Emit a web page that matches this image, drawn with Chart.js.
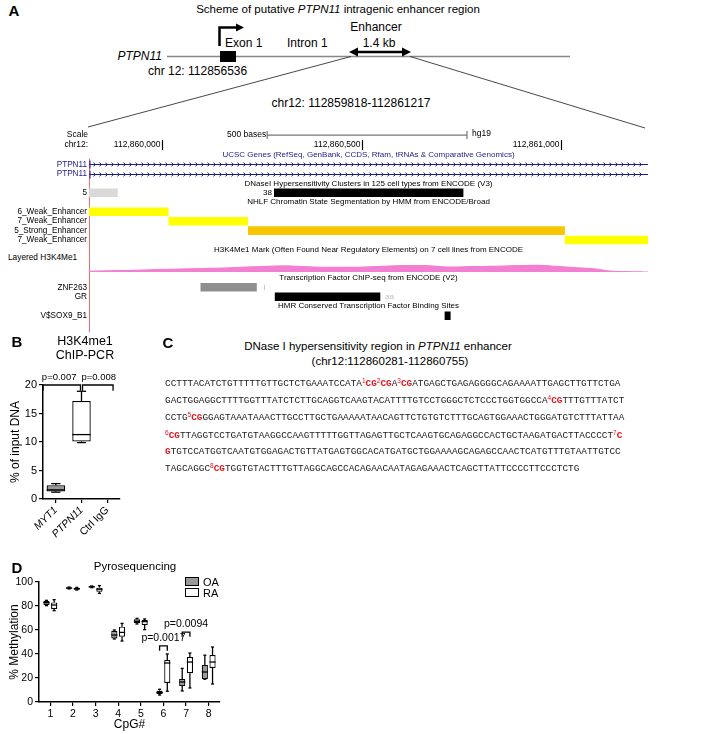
<!DOCTYPE html>
<html>
<head>
<meta charset="utf-8">
<script src="https://cdn.jsdelivr.net/npm/chart.js@4.4.0/dist/chart.umd.min.js"></script>
<style>
  body { margin: 0; background: #fff; }
  #fig { position: relative; width: 701px; height: 734px; overflow: hidden; font-family: "Liberation Sans", Arial, sans-serif; color: #000; }
  .t { position: absolute; white-space: nowrap; line-height: 1; }
  .c { transform: translate(-50%, -50%); }
  .l { transform: translate(0, -50%); }
  .r { transform: translate(-100%, -50%); }
  .lbl { font-weight: bold; font-size: 15px; }
  .seq { position: absolute; left: 165px; white-space: nowrap; line-height: 1; font-family: "Liberation Mono", monospace; font-size: 9.4px; color: #222; transform: translate(0, -50%); }
  .seq b { color: #e8141c; }
  .seq sup { color: #e8141c; font-size: 6.5px; vertical-align: 3px; font-family: "Liberation Sans", Arial, sans-serif; }
  .key { position: absolute; width: 12px; height: 7px; border: 1.3px solid #000; }
  canvas { position: absolute; }
</style>
</head>
<body>
<div id="fig">
  <!-- schema bovenaan -->
  <svg width="701" height="140" style="position:absolute;left:0;top:0">
    <line x1="167" y1="56.5" x2="570" y2="56.5" stroke="#888" stroke-width="1.3"/>
    <rect x="220" y="51" width="16" height="11" fill="#000"/>
    <path d="M219.5 46 V27.5 H237" fill="none" stroke="#000" stroke-width="2.5"/>
    <polygon points="236,23.5 244,27.5 236,31.5" fill="#000"/>
    <line x1="356" y1="52" x2="404" y2="52" stroke="#000" stroke-width="2.5"/>
    <polygon points="349,52 358,47.5 358,56.5" fill="#000"/>
    <polygon points="411,52 402,47.5 402,56.5" fill="#000"/>
    <line x1="351" y1="56.5" x2="88" y2="127" stroke="#333" stroke-width="0.9"/>
    <line x1="410" y1="56.5" x2="645" y2="128" stroke="#333" stroke-width="0.9"/>
  </svg>

  <div class="t c lbl" style="left:14px;top:10px">A</div>
  <div class="t c" style="left:338px;top:10px;font-size:11.5px">Scheme of putative <i>PTPN11</i> intragenic enhancer region</div>
  <div class="t l" style="left:225px;top:43px;font-size:12px">Exon 1</div>
  <div class="t l" style="left:287px;top:43px;font-size:12px">Intron 1</div>
  <div class="t c" style="left:376px;top:27px;font-size:12px">Enhancer</div>
  <div class="t c" style="left:379px;top:43px;font-size:12px">1.4 kb</div>
  <div class="t r" style="left:162px;top:56px;font-size:12px"><i>PTPN11</i></div>
  <div class="t l" style="left:148px;top:71px;font-size:12px">chr 12: 112856536</div>
  <div class="t c" style="left:351px;top:103px;font-size:12px">chr12: 112859818-112861217</div>
  <div class="t l" style="left:8px;top:257px;font-size:8.3px">Layered H3K4Me1</div>

  <canvas id="tracks" width="701" height="220" style="left:0;top:120px"></canvas>
  <canvas id="signal" width="559" height="20" style="left:89px;top:254px"></canvas>

  <div class="t c lbl" style="left:17px;top:341px">B</div>
  <div class="t c" style="left:85px;top:341px;font-size:12.5px">H3K4me1</div>
  <div class="t c" style="left:85px;top:355px;font-size:12.5px">ChIP-PCR</div>
  <canvas id="chip" width="140" height="175" style="left:0;top:365px"></canvas>

  <div class="t c lbl" style="left:168px;top:342px">C</div>
  <div class="t c" style="left:378px;top:347px;font-size:11.5px">DNase I hypersensitivity region in <i>PTPN11</i> enhancer</div>
  <div class="t c" style="left:390px;top:362px;font-size:11.5px">(chr12:112860281-112860755)</div>
  <div class="seq" style="top:383px">CCTTTACATCTGTTTTTGTTGCTCTGAAATCCATA<sup>1</sup><b>CG</b><sup>2</sup><b>CG</b>A<sup>3</sup><b>CG</b>ATGAGCTGAGAGGGGCAGAAAATTGAGCTTGTTCTGA</div>
  <div class="seq" style="top:400px">GACTGGAGGCTTTTGGTTTATCTCTTGCAGGTCAAGTACATTTTGTCCTGGGCTCTCCCTGGTGGCCA<sup>4</sup><b>CG</b>TTTGTTTATCT</div>
  <div class="seq" style="top:417px">CCTG<sup>5</sup><b>CG</b>GGAGTAAATAAACTTGCCTTGCTGAAAAATAACAGTTCTGTGTCTTTGCAGTGGAAACTGGGATGTCTTTATTAA</div>
  <div class="seq" style="top:435px"><sup>6</sup><b>CG</b>TTAGGTCCTGATGTAAGGCCAAGTTTTTGGTTAGAGTTGCTCAAGTGCAGAGGCCACTGCTAAGATGACTTACCCCT<sup>7</sup><b>C</b></div>
  <div class="seq" style="top:452px"><b>G</b>TGTCCATGGTCAATGTGGAGACTGTTATGAGTGGCACATGATGCTGGAAAAGCAGAGCCAACTCATGTTTGTAATTGTCC</div>
  <div class="seq" style="top:468px">TAGCAGGC<sup>8</sup><b>CG</b>TGGTGTACTTTGTTAGGCAGCCACAGAACAATAGAGAAACTCAGCTTATTCCCCTTCCCTCTG</div>

  <div class="t c lbl" style="left:17px;top:567px">D</div>
  <div class="t c" style="left:135px;top:567px;font-size:11.5px">Pyrosequencing</div>
  <div class="key" style="left:185px;top:577px;background:#999"></div>
  <div class="t l" style="left:203px;top:582px;font-size:11px">OA</div>
  <div class="key" style="left:185px;top:588px;background:#fff"></div>
  <div class="t l" style="left:203px;top:593px;font-size:11px">RA</div>
  <canvas id="pyro" width="240" height="174" style="left:0;top:560px"></canvas>
</div>

<script>
// ---------- A: genoomvenster ----------
const regionStart = 112859818;
const regionEnd = 112861217;
const rulerTicks = [112860000, 112860500, 112861000];
const scaleBar = [112860264, 112860764];

const rowLabels = ['', 'PTPN11', 'PTPN11', '', '5', '', '6_Weak_Enhancer', '7_Weak_Enhancer', '5_Strong_Enhancer', '7_Weak_Enhancer',
  '', '', '', '', 'ZNF263', 'GR', '', 'V$SOX9_B1'];
const trackStart = [null, null, null, null, 112859818, null, 112859818, 112860017, 112860216, 112861009,
  null, null, null, null, 112860097, 112860283, null, 112860708];
const trackEnd = [null, null, null, null, 112859890, null, 112860017, 112860216, 112861009, 112861217,
  null, null, null, null, 112860238, 112860547, null, 112860723];
const trackColors = ['#fff', '#fff', '#fff', '#fff', '#d9d9d9', '#fff', '#ffff00', '#ffff00', '#f7c600', '#ffff00',
  '#fff', '#fff', '#fff', '#fff', '#8f8f8f', '#000', '#fff', '#000'];
const dnaseRow = 4;
const dnaseCluster = [112860281, 112860755];

const geneRows = [1, 2];
const titleRows = [0, 3, 5, 10, 13, 16];
const titleTexts = [
  'UCSC Genes (RefSeq, GenBank, CCDS, Rfam, tRNAs & Comparative Genomics)',
  'DNaseI Hypersensitivity Clusters in 125 cell types from ENCODE (V3)',
  'NHLF Chromatin State Segmentation by HMM from ENCODE/Broad',
  'H3K4Me1 Mark (Often Found Near Regulatory Elements) on 7 cell lines from ENCODE',
  'Transcription Factor ChIP-seq from ENCODE (V2)',
  'HMR Conserved Transcription Factor Binding Sites'
];
const noteRows = [4, 14, 15];
const noteTexts = ['38', 'I', 'aa'];
const notePos = [112860281, 112860250, 112860554];
const noteColors = ['#000', '#bbb', '#bbb'];

// H3K4Me1 signaal
const sigPos = [112859818, 112859820, 112859932, 112860044, 112860156, 112860268, 112860325, 112860380, 112860492, 112860604,
  112860661, 112860716, 112860773, 112860828, 112860885, 112860942, 112860975, 112861032, 112861087, 112861121,
  112861166, 112861208, 112861217];
const sigVal = [0, 0.7, 1.7, 3, 4, 5.7, 6, 5, 4.7, 6.3, 6.3, 5, 5.3, 5.7, 6.3, 6.7, 6, 4.3, 3, 1, 0.3, 0, 0];

// ---------- B: ChIP-PCR ----------
const chipCats = ['MYT1', 'PTPN11', 'Ctrl IgG'];
const chipMin = [1.2, 9.9, null];
const chipQ1 = [1.3, 10.1, null];
const chipMed = [1.6, 11.3, null];
const chipQ3 = [2.4, 17.2, null];
const chipMax = [2.7, 18.9, null];
const chipP = ['p=0.007', 'p=0.008'];
const chipPFrom = [-0.5, 1.04];
const chipPTo = [0.96, 2.23];
const chipPText = [0.13, 1.67];

// ---------- D: pyrosequencing ----------
const cpgCats = ['1', '2', '3', '4', '5', '6', '7', '8'];
const oaMin = [80.3, 94.2, 95.3, 52.5, 65.0, 5.8, 9.2, 19.0];
const oaQ1 = [80.8, 94.4, 95.5, 53.0, 65.6, 6.6, 13.3, 19.2];
const oaMed = [82.8, 95.0, 96.0, 55.8, 67.2, 7.8, 16.7, 25.0];
const oaQ3 = [84.2, 95.5, 96.4, 59.4, 68.9, 9.4, 19.2, 30.8];
const oaMax = [84.7, 95.8, 96.7, 60.0, 69.7, 10.6, 28.0, 39.0];
const raMin = [76.1, 93.3, 90.5, 50.8, 60.3, 9.0, 11.7, 15.0];
const raQ1 = [77.5, 93.6, 91.9, 54.4, 64.2, 15.8, 24.0, 28.3];
const raMed = [80.8, 94.4, 94.0, 58.0, 67.0, 32.5, 33.3, 33.3];
const raQ3 = [83.0, 95.0, 95.3, 62.8, 68.3, 35.0, 37.5, 39.2];
const raMax = [85.3, 95.5, 97.0, 65.5, 69.2, 40.0, 40.8, 45.8];
const pyroPCat = [5, 6];
const pyroP = ['p=0.0017', 'p=0.0094'];
const pyroPY = [46.7, 58.3];

const navy = '#1c1c8c';
const sans = '"Liberation Sans", Arial, sans-serif';

// box-whisker lijnen bovenop de zwevende bars
const boxPlugin = {
  id: 'boxes',
  afterDatasetsDraw(chart) {
    const ctx = chart.ctx;
    const ys = chart.scales.y;
    ctx.save();
    ctx.strokeStyle = '#000';
    ctx.lineWidth = 1.3;
    chart.data.datasets.forEach((ds, di) => {
      chart.getDatasetMeta(di).data.forEach((bar, i) => {
        if (ds.med[i] == null) return;
        const half = bar.width / 2;
        const cap = half * 0.5;
        const line = (x0, y0, x1, y1) => { ctx.beginPath(); ctx.moveTo(x0, y0); ctx.lineTo(x1, y1); ctx.stroke(); };
        line(bar.x - half, ys.getPixelForValue(ds.med[i]), bar.x + half, ys.getPixelForValue(ds.med[i]));
        line(bar.x, ys.getPixelForValue(ds.q3[i]), bar.x, ys.getPixelForValue(ds.max[i]));
        line(bar.x - cap, ys.getPixelForValue(ds.max[i]), bar.x + cap, ys.getPixelForValue(ds.max[i]));
        line(bar.x, ys.getPixelForValue(ds.q1[i]), bar.x, ys.getPixelForValue(ds.min[i]));
        line(bar.x - cap, ys.getPixelForValue(ds.min[i]), bar.x + cap, ys.getPixelForValue(ds.min[i]));
      });
    });
    ctx.restore();
  }
};

function bracket(ctx, x0, x1, yTop, yEnd) {
  ctx.beginPath();
  ctx.moveTo(x0, yEnd);
  ctx.lineTo(x0, yTop);
  ctx.lineTo(x1, yTop);
  ctx.lineTo(x1, yEnd);
  ctx.stroke();
}

function axisStyle(extra) {
  return Object.assign({
    grid: { drawOnChartArea: false, drawTicks: true, tickLength: 4, color: '#000', lineWidth: 1.2 },
    border: { color: '#000', width: 1.5 },
    ticks: { color: '#000', font: { family: sans, size: 10 }, padding: 2 }
  }, extra);
}

// ---------- tracks chart ----------
const trackPlugin = {
  id: 'trackDecor',
  beforeDatasetsDraw(chart) {
    const { ctx, chartArea: ca, scales: { x, y } } = chart;
    ctx.save();
    // rode rand links
    ctx.strokeStyle = '#f07070';
    ctx.lineWidth = 1;
    ctx.beginPath();
    ctx.moveTo(ca.left + 0.5, y.getPixelForValue(1) - 6);
    ctx.lineTo(ca.left + 0.5, ca.bottom + 12);
    ctx.stroke();

    // genen
    ctx.strokeStyle = navy;
    geneRows.forEach(r => {
      const yy = Math.round(y.getPixelForValue(r)) + 0.5;
      const x0 = x.getPixelForValue(regionStart), x1 = x.getPixelForValue(regionEnd);
      ctx.lineWidth = 1;
      ctx.beginPath();
      ctx.moveTo(x0, yy); ctx.lineTo(x1, yy);
      ctx.moveTo(x0 + 1, yy - 4); ctx.lineTo(x0 + 1, yy + 4);
      for (let px = x0 + 6; px < x1 - 2; px += 6) {
        ctx.moveTo(px - 1.5, yy - 1.8); ctx.lineTo(px + 0.5, yy); ctx.lineTo(px - 1.5, yy + 1.8);
      }
      ctx.stroke();
    });

    // titels per track
    ctx.font = '8px ' + sans;
    ctx.textAlign = 'center';
    ctx.textBaseline = 'middle';
    titleRows.forEach((r, i) => {
      ctx.fillStyle = r === 0 ? navy : '#000';
      ctx.fillText(titleTexts[i], (ca.left + ca.right) / 2, y.getPixelForValue(r));
    });

    // notities naast balken
    noteRows.forEach((r, i) => {
      ctx.fillStyle = noteColors[i];
      ctx.textAlign = i === 0 ? 'right' : 'left';
      ctx.fillText(noteTexts[i], x.getPixelForValue(notePos[i]) + (i === 0 ? -2 : 2), y.getPixelForValue(r));
    });

    // schaal en chr12 liniaal
    const yScale = y.getPixelForValue(0) - 20;
    const yRuler = y.getPixelForValue(0) - 10;
    ctx.font = '8.5px ' + sans;
    ctx.fillStyle = '#000';
    ctx.textAlign = 'right';
    ctx.fillText('Scale', ca.left - 1, yScale);
    ctx.fillText('chr12:', ca.left - 1, yRuler);
    const s0 = x.getPixelForValue(scaleBar[0]), s1 = x.getPixelForValue(scaleBar[1]);
    ctx.fillText('500 bases', s0 - 1, yScale);
    ctx.textAlign = 'left';
    ctx.fillText('hg19', s1 + 5, yScale - 1);
    ctx.strokeStyle = '#777';
    ctx.lineWidth = 1.2;
    ctx.beginPath();
    ctx.moveTo(s0, yScale); ctx.lineTo(s1, yScale);
    ctx.moveTo(s0, yScale - 4); ctx.lineTo(s0, yScale + 4);
    ctx.moveTo(s1, yScale - 4); ctx.lineTo(s1, yScale + 4);
    ctx.stroke();
    ctx.strokeStyle = '#000';
    ctx.textAlign = 'right';
    rulerTicks.forEach(v => {
      const px = Math.round(x.getPixelForValue(v)) + 0.5;
      ctx.fillText(v.toLocaleString('en-US'), px - 2, yRuler);
      ctx.beginPath();
      ctx.moveTo(px, yRuler - 5); ctx.lineTo(px, yRuler + 5);
      ctx.stroke();
    });
    ctx.restore();
  }
};

new Chart(document.getElementById('tracks'), {
  type: 'bar',
  data: {
    labels: rowLabels,
    datasets: [{
      data: trackStart.map((s, i) => s == null ? null : [s, trackEnd[i]]),
      backgroundColor: trackColors,
      grouped: false,
      categoryPercentage: 0.9,
      barPercentage: 1
    }, {
      data: rowLabels.map((l, i) => i === dnaseRow ? dnaseCluster : null),
      backgroundColor: '#000',
      grouped: false,
      categoryPercentage: 0.9,
      barPercentage: 1
    }]
  },
  options: {
    indexAxis: 'y',
    responsive: false,
    animation: false,
    layout: { padding: { top: 30.3, bottom: 19.6, right: 53, left: 0 } },
    plugins: { legend: { display: false }, tooltip: { enabled: false } },
    scales: {
      x: { type: 'linear', min: regionStart, max: regionEnd, display: false },
      y: {
        grid: { display: false, drawTicks: false },
        border: { display: false },
        ticks: {
          autoSkip: false,
          padding: 2,
          font: { family: sans, size: 8.2 },
          color: ctx => geneRows.includes(ctx.index) ? navy : '#000'
        },
        afterFit: s => { s.width = 89; }
      }
    }
  },
  plugins: [trackPlugin]
});

new Chart(document.getElementById('signal'), {
  type: 'line',
  data: {
    datasets: [{
      data: sigPos.map((p, i) => ({ x: p, y: sigVal[i] })),
      borderColor: '#f27fd2',
      backgroundColor: '#f27fd2',
      borderWidth: 1.2,
      pointRadius: 0,
      tension: 0.35,
      fill: 'origin'
    }]
  },
  options: {
    responsive: false,
    animation: false,
    layout: { padding: { top: 0, bottom: 2, left: 0, right: 0 } },
    plugins: { legend: { display: false }, tooltip: { enabled: false } },
    scales: {
      x: { type: 'linear', min: regionStart, max: regionEnd, display: false },
      y: { min: 0, max: 18, display: false }
    }
  }
});

// ---------- B chart ----------
const chipAnnot = {
  id: 'chipAnnot',
  afterDatasetsDraw(chart) {
    const { ctx, scales: { x, y } } = chart;
    ctx.save();
    ctx.strokeStyle = '#000';
    ctx.lineWidth = 1.3;
    ctx.fillStyle = '#000';
    ctx.font = '9.5px ' + sans;
    ctx.textAlign = 'center';
    ctx.textBaseline = 'middle';
    chipP.forEach((t, i) => {
      const x0 = x.getPixelForValue(chipPFrom[i]), x1 = x.getPixelForValue(chipPTo[i]);
      bracket(ctx, x0, x1, y.getPixelForValue(20), y.getPixelForValue(19));
      ctx.fillText(t, x.getPixelForValue(chipPText[i]), y.getPixelForValue(21.4));
    });
    ctx.restore();
  }
};

new Chart(document.getElementById('chip'), {
  type: 'bar',
  data: {
    labels: chipCats,
    datasets: [{
      data: chipCats.map((c, i) => chipQ1[i] == null ? null : [chipQ1[i], chipQ3[i]]),
      backgroundColor: ['#999', '#fff', '#fff'],
      borderColor: '#000',
      borderWidth: 1.3,
      borderSkipped: false,
      barPercentage: 0.72,
      categoryPercentage: 1,
      min: chipMin, q1: chipQ1, med: chipMed, q3: chipQ3, max: chipMax
    }]
  },
  options: {
    responsive: false,
    animation: false,
    layout: { padding: { top: 20, right: 20, left: 0, bottom: 0 } },
    plugins: { legend: { display: false }, tooltip: { enabled: false } },
    scales: {
      x: axisStyle({
        grid: { drawOnChartArea: false, drawTicks: true, tickLength: 4, color: '#000', lineWidth: 1.2, offset: false },
        ticks: {
          color: '#000', padding: 1, minRotation: 45, maxRotation: 45,
          font: ctx => ({ family: sans, size: 10.5, style: ctx.index < 2 ? 'italic' : 'normal' })
        },
        afterFit: s => { s.height = 41; }
      }),
      y: axisStyle({
        min: 0, max: 20,
        ticks: { color: '#000', font: { family: sans, size: 11 }, padding: 2, stepSize: 5 },
        title: { display: true, text: '% of input DNA', color: '#000', font: { family: sans, size: 12 }, padding: { top: 8, bottom: 0 } },
        afterFit: s => { s.width = 43; }
      })
    }
  },
  plugins: [boxPlugin, chipAnnot]
});

// ---------- D chart ----------
const pyroAnnot = {
  id: 'pyroAnnot',
  afterDatasetsDraw(chart) {
    const { ctx, scales: { y } } = chart;
    const oa = chart.getDatasetMeta(0).data, ra = chart.getDatasetMeta(1).data;
    ctx.save();
    ctx.strokeStyle = '#000';
    ctx.lineWidth = 1.3;
    ctx.fillStyle = '#000';
    ctx.font = '10.5px ' + sans;
    ctx.textAlign = 'center';
    ctx.textBaseline = 'middle';
    pyroPCat.forEach((c, i) => {
      const x0 = oa[c].x, x1 = ra[c].x;
      bracket(ctx, x0, x1, y.getPixelForValue(pyroPY[i]), y.getPixelForValue(pyroPY[i] - 4));
      ctx.fillText(pyroP[i], (x0 + x1) / 2, y.getPixelForValue(pyroPY[i] + 6.5));
    });
    ctx.restore();
  }
};

new Chart(document.getElementById('pyro'), {
  type: 'bar',
  data: {
    labels: cpgCats,
    datasets: [{
      label: 'OA',
      data: cpgCats.map((c, i) => [oaQ1[i], oaQ3[i]]),
      backgroundColor: '#999',
      borderColor: '#000',
      borderWidth: 1.2,
      borderSkipped: false,
      categoryPercentage: 0.68,
      barPercentage: 0.8,
      min: oaMin, q1: oaQ1, med: oaMed, q3: oaQ3, max: oaMax
    }, {
      label: 'RA',
      data: cpgCats.map((c, i) => [raQ1[i], raQ3[i]]),
      backgroundColor: '#fff',
      borderColor: '#000',
      borderWidth: 1.2,
      borderSkipped: false,
      categoryPercentage: 0.68,
      barPercentage: 0.8,
      min: raMin, q1: raQ1, med: raMed, q3: raQ3, max: raMax
    }]
  },
  options: {
    responsive: false,
    animation: false,
    layout: { padding: { top: 22, right: 20, left: 0, bottom: 0 } },
    plugins: { legend: { display: false }, tooltip: { enabled: false } },
    scales: {
      x: axisStyle({
        grid: { drawOnChartArea: false, drawTicks: true, tickLength: 4, color: '#000', lineWidth: 1.2, offset: false },
        ticks: { color: '#000', font: { family: sans, size: 10.5 }, padding: 2, maxRotation: 0 },
        title: { display: true, text: 'CpG#', color: '#000', font: { family: sans, size: 12 }, padding: { top: 0, bottom: 2 } },
        afterFit: s => { s.height = 32; }
      }),
      y: axisStyle({
        min: 0, max: 100,
        ticks: { color: '#000', font: { family: sans, size: 10.5 }, padding: 2, stepSize: 20 },
        title: { display: true, text: '% Methylation', color: '#000', font: { family: sans, size: 12 }, padding: { top: 7, bottom: 0 } },
        afterFit: s => { s.width = 39; }
      })
    }
  },
  plugins: [boxPlugin, pyroAnnot]
});
</script>
</body>
</html>
